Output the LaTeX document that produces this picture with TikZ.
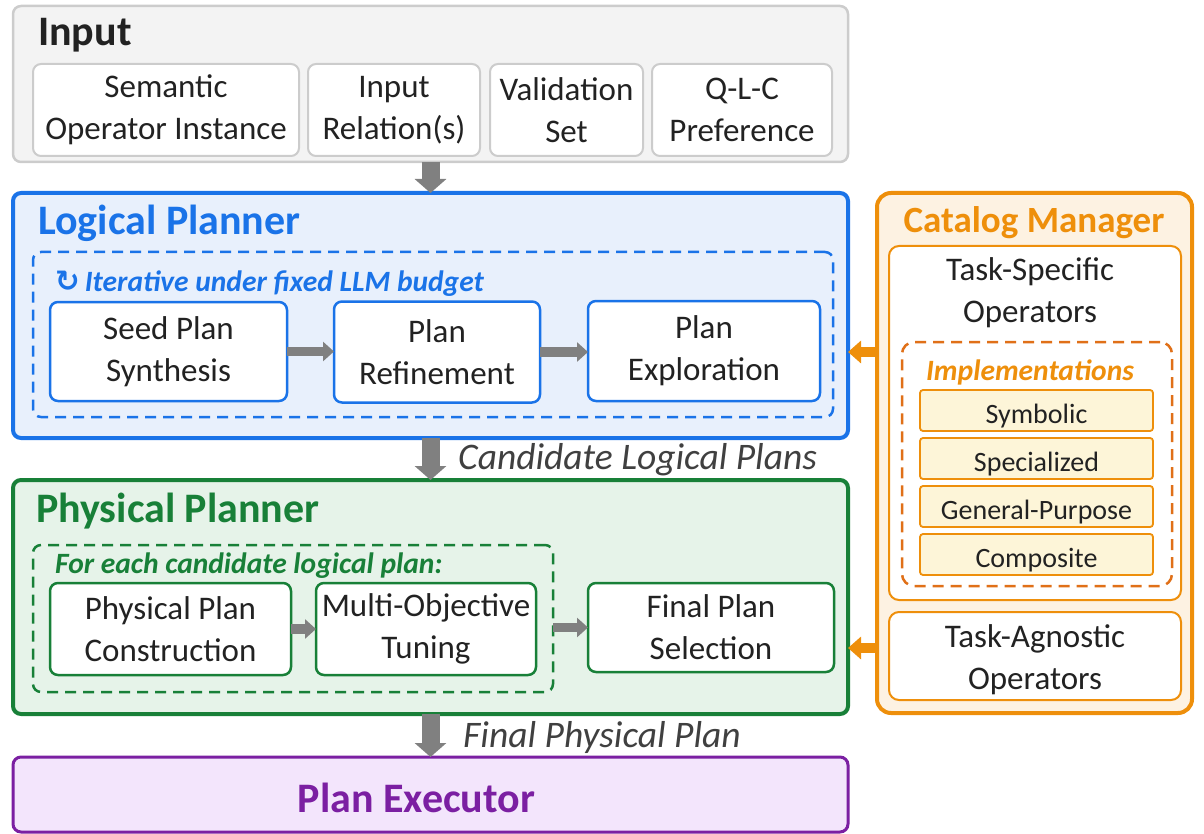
\documentclass[tikz,border=0pt]{standalone}
\usepackage{fontspec}
\setmainfont{Carlito}
\newfontfamily\symfont{DejaVu Sans}
\usetikzlibrary{arrows.meta}
\definecolor{txt}{HTML}{222222}
\definecolor{lbl}{HTML}{404040}
\definecolor{infill}{HTML}{F3F3F3}
\definecolor{indraw}{HTML}{CCCCCC}
\definecolor{blueA}{HTML}{1A73E8}
\definecolor{bluefill}{HTML}{E8F0FC}
\definecolor{greenA}{HTML}{188038}
\definecolor{greenfill}{HTML}{E6F3E9}
\definecolor{purpleA}{HTML}{7B1FA2}
\definecolor{purplefill}{HTML}{F3E5FC}
\definecolor{orangeA}{HTML}{EE8F0B}
\definecolor{orangeD}{HTML}{E07018}
\definecolor{orangefill}{HTML}{FDF2E2}
\definecolor{implfill}{HTML}{FDF5D8}
\definecolor{arrgray}{HTML}{808080}
\tikzset{
  base/.style={inner sep=0pt, outer sep=0pt, rounded corners=8pt, align=center},
  sz/.style 2 args={minimum width=#1pt, minimum height=#2pt},
  body/.style={font=\fontsize{33}{42}\selectfont, text=txt},
  title/.style={font=\fontsize{42}{48}\selectfont\bfseries, inner sep=0pt, anchor=west},
  panel/.style={base, line width=4pt},
  inbox/.style={base, body, draw=indraw, fill=white, line width=2pt},
  bluebox/.style={base, body, draw=blueA, fill=white, line width=2.5pt},
  greenbox/.style={base, body, draw=greenA, fill=white, line width=2.5pt},
  orbox/.style={base, body, draw=orangeA, fill=white, line width=2pt, rounded corners=10pt},
  implbox/.style={base, font=\fontsize{28}{34}\selectfont, text=txt, draw=orangeA, fill=implfill, line width=1.8pt, rounded corners=3pt, text height=30pt, text depth=4pt},
  dashbox/.style={base, line width=2.5pt, dash pattern=on 11pt off 7pt},
  sublabel/.style={font=\fontsize{29.5}{34}\selectfont\bfseries\itshape, inner sep=0pt, anchor=west},
  flowlabel/.style={font=\fontsize{37.5}{42}\selectfont\itshape, text=lbl, inner sep=0pt, anchor=west},
  varrow/.style={draw=arrgray, line width=18pt, -{Triangle[length=14pt,width=31pt]}},
  harrow/.style={draw=arrgray, line width=9.5pt, -{Triangle[length=11pt,width=19pt]}},
  oarrow/.style={draw=orangeA, line width=10pt, -{Triangle[length=13pt,width=22pt]}}
}
\begin{document}
\begin{tikzpicture}[x=1pt,y=-1pt]
\useasboundingbox (0,0) rectangle (1204,834);

% Input
\node[panel, sz={835}{156}, draw=indraw, fill=infill, line width=2.5pt] (input) at (430.5,84) {};
\node[title, text=txt] (inputT) at (38,35) {Input};
\node[inbox, sz={266}{92}] (soi) at (166,110) {Semantic\\Operator Instance};
\node[inbox, sz={172}{92}] (irel) at (394,110) {Input\\Relation(s)};
\node[inbox, sz={153}{92}] (vset) at (566.5,110) {Validation\\Set};
\node[inbox, sz={180}{92}] (qlc) at (742,110) {Q-L-C\\Preference};

% Logical planner
\node[panel, sz={835}{245}, draw=blueA, fill=bluefill] (logical) at (430.5,315.5) {};
\node[title, text=blueA] (logicalT) at (38,223) {Logical Planner};
\node[dashbox, sz={800}{165}, draw=blueA] (ldash) at (433,334.5) {};
\node[sublabel, text=blueA] (iterT) at (55,284) {{\symfont\bfseries ↻}\,Iterative under fixed LLM budget};
\node[bluebox, sz={237}{99}] (seed) at (168.5,351.5) {Seed Plan\\Synthesis};
\node[bluebox, sz={206}{101}] (refine) at (437,352) {Plan\\Refinement};
\node[bluebox, sz={232}{100}] (explore) at (704,351) {Plan\\Exploration};
\draw[harrow] (seed.east) -- (refine.west |- seed.east);
\draw[harrow] (refine.east) -- (explore.west |- refine.east);

% Physical planner
\node[panel, sz={835}{234}, draw=greenA, fill=greenfill] (physical) at (430.5,597) {};
\node[title, text=greenA] (physicalT) at (36,511) {Physical Planner};
\node[dashbox, sz={520}{147}, draw=greenA] (pdash) at (293,618.5) {};
\node[sublabel, text=greenA] (eachT) at (55,566) {For each candidate logical plan:};
\node[greenbox, sz={241}{92}] (ppc) at (170.5,629) {Physical Plan\\Construction};
\node[greenbox, sz={220}{92}] (mot) at (426,629) {Multi-Objective\\Tuning};
\node[greenbox, sz={246}{89}] (fps) at (711,627.5) {Final Plan\\Selection};
\draw[harrow] (ppc.east) -- (mot.west);
\draw[harrow] (pdash.east |- fps.west) -- (fps.west);

% Executor
\node[panel, sz={835}{75}, draw=purpleA, fill=purplefill, line width=3pt] (exec) at (430.5,794.5) {};
\node[font=\fontsize{42}{48}\selectfont\bfseries, text=purpleA, inner sep=0pt] (execT) at (416.5,798) {Plan Executor};

% vertical flow arrows
\draw[varrow] (input.south) -- (logical.north);
\draw[varrow] (logical.south) -- (physical.north);
\draw[varrow] (physical.south) -- (exec.north);
\node[flowlabel] (candT) at (458,460) {Candidate Logical Plans};
\node[flowlabel] (finalT) at (463,737) {Final Physical Plan};

% Catalog manager
\node[panel, sz={315}{520}, draw=orangeA, fill=orangefill, rounded corners=14pt] (catalog) at (1034.5,453) {};
\node[font=\fontsize{37}{44}\selectfont\bfseries, text=orangeA, inner sep=0pt] (catalogT) at (1034,223) {Catalog Manager};
\node[orbox, sz={292}{354}] (tsbox) at (1035,423) {};
\node[body, align=center, inner sep=0pt] (tsT) at (1030,293) {Task-Specific\\Operators};
\node[dashbox, sz={270}{244}, draw=orangeD, rounded corners=12pt] (odash) at (1037,464) {};
\node[font=\fontsize{29.5}{34}\selectfont\bfseries\itshape, text=orangeA, inner sep=0pt] (implT) at (1030,372) {Implementations};
\node[implbox, sz={233}{41}] (sym) at (1036.5,410.5) {Symbolic};
\node[implbox, sz={233}{41}] (spec) at (1036.5,458.5) {Specialized};
\node[implbox, sz={233}{41}] (gen) at (1036.5,506.5) {General-Purpose};
\node[implbox, sz={233}{41}] (comp) at (1036.5,554.5) {Composite};
\node[orbox, sz={292}{88}] (tabox) at (1035,656) {};
\node[body, align=center, inner sep=0pt] (taT) at (1035,660) {Task-Agnostic\\Operators};

\coordinate (c1) at (877,352);
\coordinate (c2) at (877,648);
\draw[oarrow] (c1) -- (logical.east |- c1);
\draw[oarrow] (c2) -- (physical.east |- c2);
\end{tikzpicture}
\end{document}
